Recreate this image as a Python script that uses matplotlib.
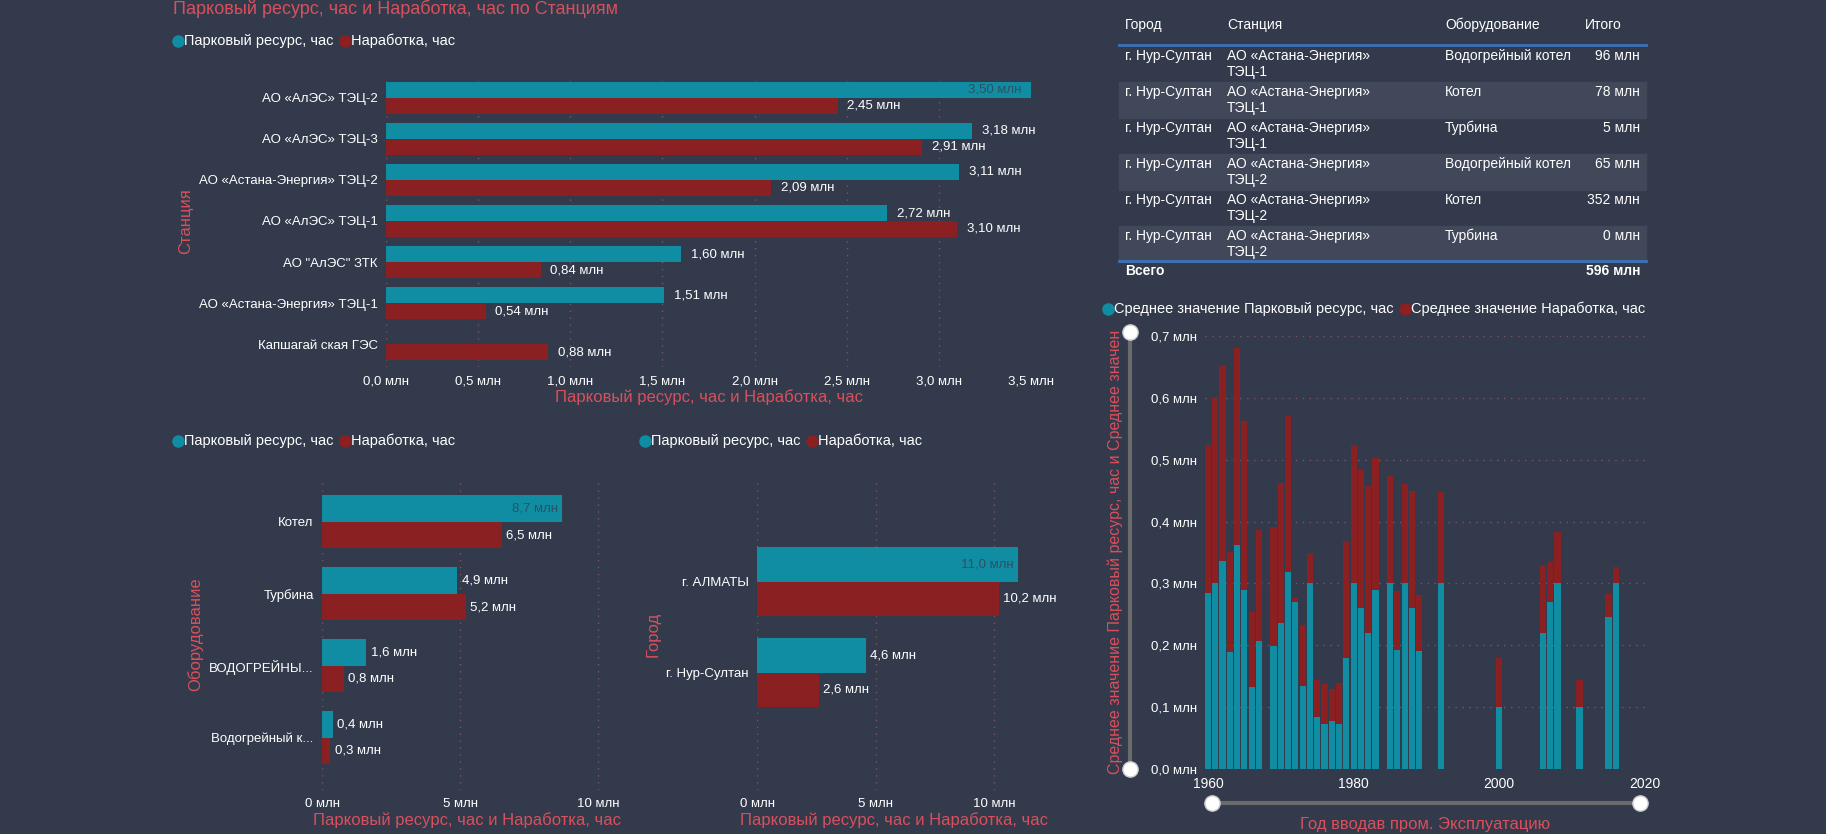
import matplotlib
matplotlib.use("Agg")
import matplotlib.pyplot as plt
from matplotlib.lines import Line2D
from matplotlib.patches import Rectangle
import numpy as np

plt.rcParams['font.family'] = ['Liberation Sans', 'DejaVu Sans']

BG = '#323a4b'
TEAL = '#118da3'
RED = '#8a2022'
LBL = '#d9505c'
GRID = '#7a5560'

# --- данные ---
stations = ['АО «АлЭС» ТЭЦ-2', 'АО «АлЭС» ТЭЦ-3', 'АО «Астана-Энергия» ТЭЦ-2',
            'АО «АлЭС» ТЭЦ-1', 'АО "АлЭС" ЗТК', 'АО «Астана-Энергия» ТЭЦ-1',
            'Капшагай ская ГЭС']
st_park = [3.50, 3.18, 3.11, 2.72, 1.60, 1.51, 0.0]
st_work = [2.45, 2.91, 2.09, 3.10, 0.84, 0.54, 0.88]

equip = ['Котел', 'Турбина', 'ВОДОГРЕЙНЫ...', 'Водогрейный к...']
eq_park = [8.7, 4.9, 1.6, 0.4]
eq_work = [6.5, 5.2, 0.8, 0.3]

cities = ['г. АЛМАТЫ', 'г. Нур-Султан']
ct_park = [11.0, 4.6]
ct_work = [10.2, 2.6]

years = [1960, 1961, 1962, 1963, 1964, 1965, 1966, 1967, 1969, 1970, 1971, 1972,
         1973, 1974, 1975, 1976, 1977, 1978, 1979, 1980, 1981, 1982, 1983, 1985,
         1986, 1987, 1988, 1989, 1992, 2000, 2006, 2007, 2008, 2011, 2015, 2016]
yr_park = [0.285, 0.300, 0.337, 0.189, 0.362, 0.290, 0.133, 0.207, 0.199, 0.236,
           0.318, 0.270, 0.134, 0.300, 0.084, 0.072, 0.078, 0.072, 0.179, 0.300,
           0.260, 0.220, 0.290, 0.300, 0.192, 0.300, 0.260, 0.190, 0.300, 0.100,
           0.220, 0.270, 0.300, 0.100, 0.245, 0.300]
yr_total = [0.524, 0.602, 0.652, 0.351, 0.680, 0.563, 0.254, 0.387, 0.392, 0.463,
            0.571, 0.277, 0.232, 0.349, 0.144, 0.137, 0.130, 0.139, 0.368, 0.524,
            0.483, 0.457, 0.503, 0.473, 0.287, 0.460, 0.450, 0.281, 0.447, 0.179,
            0.329, 0.334, 0.383, 0.144, 0.283, 0.327]

tbl_header = ['Город', 'Станция', 'Оборудование', 'Итого']
tbl_city = ['г. Нур-Султан'] * 6
tbl_station = ['АО «Астана-Энергия»\nТЭЦ-1'] * 3 + ['АО «Астана-Энергия»\nТЭЦ-2'] * 3
tbl_equip = ['Водогрейный котел', 'Котел', 'Турбина', 'Водогрейный котел', 'Котел', 'Турбина']
tbl_total = ['96 млн', '78 млн', '5 млн', '65 млн', '352 млн', '0 млн']
tbl_sum = '596 млн'

W, H = 1826, 834
fig = plt.figure(figsize=(W / 100, H / 100), dpi=100, facecolor=BG)
renderer = fig.canvas.get_renderer()


def px_axes(x0, y0, x1, y1):
    return fig.add_axes([x0 / W, 1 - y1 / H, (x1 - x0) / W, (y1 - y0) / H])


def fmt(v, d):
    return f'{v:.{d}f} млн'.replace('.', ',')


def legend_row(x, y, items, size=10.5):
    for lab, col in items:
        fig.add_artist(Line2D([(x + 5) / W], [1 - y / H], marker='o', markersize=8,
                              color=col, linestyle='none'))
        t = fig.text((x + 11) / W, 1 - y / H, lab, color='white', fontsize=size, va='center')
        w = t.get_window_extent(renderer).width
        x += 11 + w + 6


def hbars(ax, cats, park, work, xmax, ticks, dec, ylabel, ticklab, ylim, inside, h):
    n = len(cats)
    y = np.arange(n)
    ax.set_facecolor(BG)
    ax.barh(y - h / 2, park, height=h, color=TEAL)
    ax.barh(y + h / 2, work, height=h, color=RED)
    for i in range(n):
        if park[i] > 0:
            if park[i] > inside:
                ax.text(park[i] - xmax * 0.015, y[i] - h / 2, fmt(park[i], dec), color='#2b5262',
                        ha='right', va='center', fontsize=9.5)
            else:
                ax.text(park[i] + xmax * 0.015, y[i] - h / 2, fmt(park[i], dec), color='white',
                        ha='left', va='center', fontsize=9.5)
        ax.text(work[i] + xmax * 0.015, y[i] + h / 2, fmt(work[i], dec), color='white',
                ha='left', va='center', fontsize=9.5)
    ax.set_ylim(*ylim)
    ax.set_xlim(0, xmax)
    ax.set_yticks(y)
    ax.set_yticklabels(cats, color='white', fontsize=9.5)
    ax.set_xticks(ticks)
    ax.set_xticklabels(ticklab, color='white', fontsize=9.5)
    ax.tick_params(length=0, pad=6)
    ax.grid(axis='x', color=GRID, linestyle=(0, (1, 4)), linewidth=1)
    ax.set_axisbelow(True)
    for s in ax.spines.values():
        s.set_visible(False)
    ax.set_ylabel(ylabel, color=LBL, fontsize=12)
    ax.set_xlabel('Парковый ресурс, час и Наработка, час', color=LBL, fontsize=12, labelpad=1)


# верхняя диаграмма
fig.text(173 / W, 1 - 9 / H, 'Парковый ресурс, час и Наработка, час по Станциям',
         color=LBL, fontsize=13, va='center')
legend_row(173, 41, [('Парковый ресурс, час', TEAL), ('Наработка, час', RED)])
ax1 = px_axes(386, 75, 1031, 367)
hbars(ax1, stations, st_park, st_work, 3.5, np.arange(0, 3.51, 0.5), 2, 'Станция',
      [fmt(t, 1) for t in np.arange(0, 3.51, 0.5)], (6.56, -0.56), 3.3, 0.39)

# оборудование
legend_row(173, 441, [('Парковый ресурс, час', TEAL), ('Наработка, час', RED)])
ax2 = px_axes(322, 478, 612, 790)
hbars(ax2, equip, eq_park, eq_work, 10.5, [0, 5, 10], 1, 'Оборудование',
      ['0 млн', '5 млн', '10 млн'], (3.73, -0.61), 8.0, 0.37)

# город
legend_row(640, 441, [('Парковый ресурс, час', TEAL), ('Наработка, час', RED)])
ax3 = px_axes(757, 478, 1030, 790)
hbars(ax3, cities, ct_park, ct_work, 11.5, [0, 5, 10], 1, 'Город',
      ['0 млн', '5 млн', '10 млн'], (2.29, -1.14), 10.0, 0.38)

# таблица
tx = [1125, 1227, 1445, 1645]
fig.text(tx[0] / W, 1 - 25 / H, tbl_header[0], color='white', fontsize=10, va='center')
fig.text(tx[1] / W, 1 - 25 / H, tbl_header[1], color='white', fontsize=10, va='center')
fig.text(tx[2] / W, 1 - 25 / H, tbl_header[2], color='white', fontsize=10, va='center')
fig.text(1585 / W, 1 - 25 / H, tbl_header[3], color='white', fontsize=10, va='center')
fig.add_artist(Line2D([1119 / W, 1646 / W], [1 - 45 / H, 1 - 45 / H], color='#3b73b9', lw=2))
row_h = 36
for i in range(6):
    top = 46 + i * row_h
    if i % 2 == 1:
        fig.add_artist(Rectangle((1119 / W, 1 - (top + row_h) / H), 527 / W, row_h / H,
                                 color='#414859', zorder=0))
    yy = 1 - (top + 10) / H
    fig.text(tx[0] / W, yy, tbl_city[i], color='white', fontsize=10, va='center')
    fig.text(tx[1] / W, 1 - (top + 18) / H, tbl_station[i], color='white', fontsize=10,
             va='center', linespacing=1.2)
    fig.text(tx[2] / W, yy, tbl_equip[i], color='white', fontsize=10, va='center')
    fig.text(1640 / W, yy, tbl_total[i], color='white', fontsize=10, va='center', ha='right')
fig.add_artist(Line2D([1119 / W, 1646 / W], [1 - 261 / H, 1 - 261 / H], color='#3b73b9', lw=2))
fig.text(tx[0] / W, 1 - 271 / H, 'Всего', color='white', fontsize=10, va='center', weight='bold')
fig.text(1640 / W, 1 - 271 / H, tbl_sum, color='white', fontsize=10, va='center', ha='right',
         weight='bold')

# столбцы по годам
legend_row(1103, 309, [('Среднее значение Парковый ресурс, час', TEAL),
                       ('Среднее значение Наработка, час', RED)])
ax4 = px_axes(1205, 336, 1645, 769)
ax4.set_facecolor(BG)
yr_work = [t - p for t, p in zip(yr_total, yr_park)]
ax4.bar(years, yr_park, width=0.85, color=TEAL)
ax4.bar(years, yr_work, bottom=yr_park, width=0.85, color=RED)
ax4.set_xlim(1959.6, 2020)
ax4.set_ylim(0, 0.7)
ax4.set_yticks(np.arange(0, 0.71, 0.1))
ax4.set_yticklabels([fmt(t, 1) for t in np.arange(0, 0.71, 0.1)], color='white', fontsize=9.5)
ax4.set_xticks([1960, 1980, 2000, 2020])
ax4.set_xticklabels(['1960', '1980', '2000', '2020'], color='white', fontsize=10)
ax4.tick_params(length=0, pad=6)
ax4.grid(axis='y', color=GRID, linestyle=(0, (1, 4)), linewidth=1)
ax4.set_axisbelow(True)
for s in ax4.spines.values():
    s.set_visible(False)
fig.text(1115 / W, 1 - 552 / H, 'Среднее значение Парковый ресурс, час и Среднее значен',
         color=LBL, fontsize=11.5, rotation=90, ha='center', va='center')
fig.text(1425 / W, 1 - 825 / H, 'Год вводав пром. Эксплуатацию', color=LBL, fontsize=12,
         ha='center', va='center')

# ползунки
fig.add_artist(Line2D([1130 / W, 1130 / W], [1 - 332 / H, 1 - 769 / H], color='#6b6b6b', lw=3))
fig.add_artist(Line2D([1212 / W, 1640 / W], [1 - 803 / H, 1 - 803 / H], color='#6b6b6b', lw=3))
for cx, cy in [(1130, 332), (1130, 769), (1212, 803), (1640, 803)]:
    fig.add_artist(Line2D([cx / W], [1 - cy / H], marker='o', markersize=11, color='white',
                          markeredgecolor='#cccccc'))

fig.savefig('out.png', dpi=100, facecolor=BG)
